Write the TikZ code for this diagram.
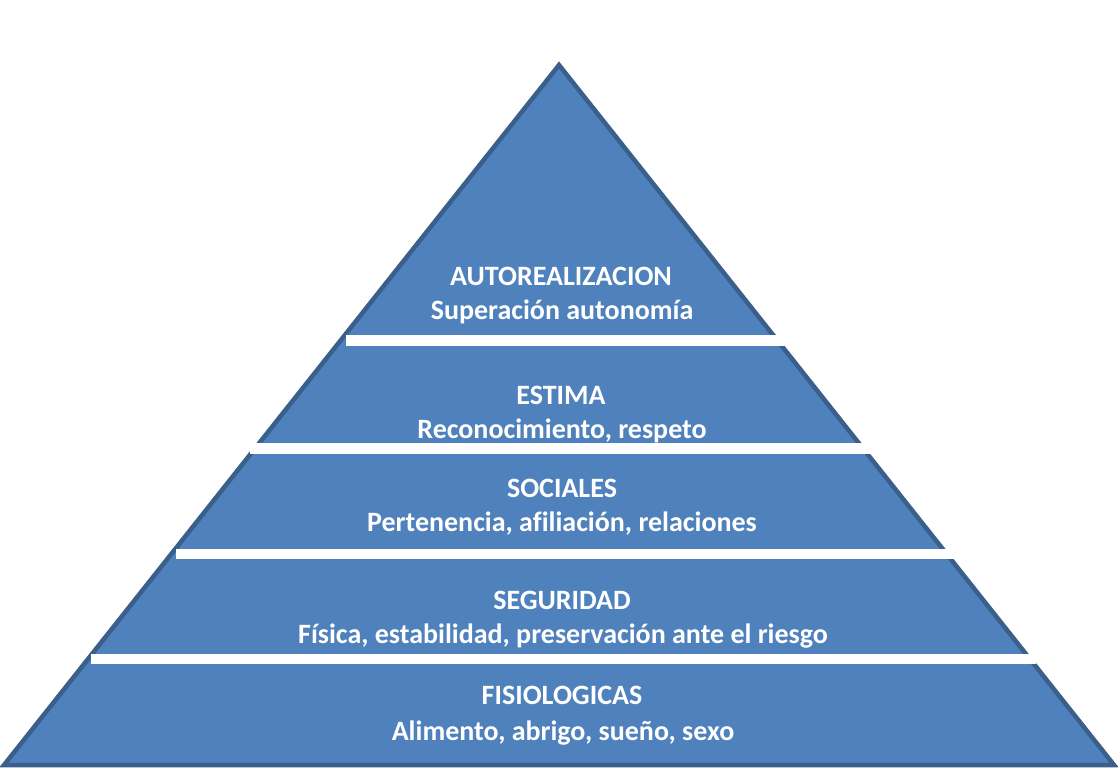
\documentclass[tikz,border=0pt]{standalone}
\usepackage{fontspec}
\setmainfont[Ligatures=CommonOff]{Carlito}
\definecolor{pyrfill}{HTML}{4F81BD}
\definecolor{pyredge}{HTML}{3A5F8B}
\begin{document}
\begin{tikzpicture}[x=1pt,y=-1pt,
  lbl/.style={text=white,font=\fontsize{28}{33}\selectfont\bfseries,anchor=base,inner sep=0pt},
  gap/.style={fill=white,draw=none}]
\useasboundingbox (0,0) rectangle (1118,771);
\fill[white] (0,0) rectangle (1118,771);
% pyramid
\coordinate (apex) at (559,65);
\coordinate (bl) at (4,765);
\coordinate (br) at (1114,765);
\filldraw[fill=pyrfill,draw=pyredge,line width=4.5pt,line join=miter] (apex) -- (br) -- (bl) -- cycle;
% white gaps
\fill[gap] (346,335) rectangle (786,346);
\fill[gap] (250,443) rectangle (873,454);
\fill[gap] (176,549) rectangle (955,559);
\fill[gap] (91,654) rectangle (1036,664);
% labels
\node[lbl] (t1a) at (561,285) {AUTOREALIZACION};
\node[lbl] (t1b) at (562,319) {Superación autonomía};
\node[lbl] (t2a) at (561,404) {ESTIMA};
\node[lbl] (t2b) at (562,438) {Reconocimiento, respeto};
\node[lbl] (t3a) at (562,497) {SOCIALES};
\node[lbl] (t3b) at (562,531) {Pertenencia, afiliación, relaciones};
\node[lbl] (t4a) at (562,609) {SEGURIDAD};
\node[lbl] (t4b) at (563,643) {Física, estabilidad, preservación ante el riesgo};
\node[lbl] (t5a) at (562,704) {FISIOLOGICAS};
\node[lbl] (t5b) at (563,740) {Alimento, abrigo, sueño, sexo};
\end{tikzpicture}
\end{document}
